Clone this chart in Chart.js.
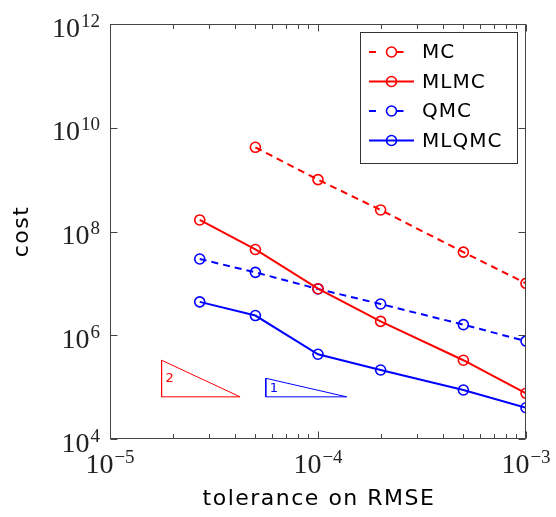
<!DOCTYPE html>
<html>
<head>
<meta charset="utf-8">
<script src="https://cdn.jsdelivr.net/npm/chart.js@4/dist/chart.umd.min.js"></script>
<style>
html,body{margin:0;padding:0;background:#fff;}
#c{display:block;}
</style>
</head>
<body>
<canvas id="c" width="556" height="517"></canvas>
<script>
// ---- data ----
const tolerance = [2.7e-5, 5e-5, 1e-4, 2e-4, 5e-4, 1e-3];
const mcCost    = [null, 4.2e9, 1.0e9, 2.6e8, 4.0e7, 1.0e7];
const mlmcCost  = [1.67e8, 4.5e7, 7.9e6, 1.85e6, 3.3e5, 7.6e4];
const qmcCost   = [2.95e7, 1.63e7, 7.8e6, 4.0e6, 1.6e6, 7.7e5];
const mlqmcCost = [4.4e6, 2.4e6, 4.3e5, 2.14e5, 8.8e4, 4.0e4];
const seriesLabels = ['MC', 'MLMC', 'QMC', 'MLQMC'];
// slope triangles (x corners, y corners)
const triRedX  = [1.77e-5, 4.22e-5, 1.77e-5, 1.77e-5];
const triRedY  = [6.5e4, 6.5e4, 3.3e5, 6.5e4];
const triBlueX = [5.61e-5, 1.374e-4, 5.61e-5, 5.61e-5];
const triBlueY = [6.5e4, 6.5e4, 1.48e5, 6.5e4];
const triLabels = ['2', '1'];
// axis ticks (exponents)
const xTickExp = [-5, -4, -3];
const yTickExp = [4, 6, 8, 10, 12];

const RED = '#ff0000', BLUE = '#0000ff';
function pts(xs, ys){ return xs.map((x,i)=>({x:x, y:ys[i]})).filter(p=>p.y!==null); }

function series(label, ys, color, dashed){
  return {
    label: label, data: pts(tolerance, ys),
    borderColor: color, backgroundColor: 'rgba(0,0,0,0)',
    borderWidth: 2, borderDash: dashed ? [7,5] : [],
    pointRadius: 5, pointHoverRadius: 5, pointBorderWidth: 1.6,
    pointBackgroundColor: 'rgba(0,0,0,0)', pointBorderColor: color,
    pointStyle: 'circle', showLine: true, fill: false, tension: 0
  };
}
function tri(xs, ys, color){
  return {
    label: '', data: pts(xs, ys), borderColor: color, backgroundColor: 'rgba(0,0,0,0)',
    borderWidth: 1, pointRadius: 0, showLine: true, fill: false, tension: 0
  };
}

const datasets = [
  series(seriesLabels[0], mcCost, RED, true),
  series(seriesLabels[1], mlmcCost, RED, false),
  series(seriesLabels[2], qmcCost, BLUE, true),
  series(seriesLabels[3], mlqmcCost, BLUE, false),
  tri(triRedX, triRedY, RED),
  tri(triBlueX, triBlueY, BLUE)
];

const SERIF = '"Liberation Serif", "DejaVu Serif", serif';
const SANS = '"DejaVu Sans", sans-serif';

function drawPow(ctx, base, exp, x, y, align, baseSize, supSize){
  ctx.font = baseSize + 'px ' + SERIF;
  const wb = ctx.measureText(base).width;
  ctx.font = supSize + 'px ' + SERIF;
  const ws = ctx.measureText(exp).width;
  const total = wb + ws + 1;
  let x0 = align === 'right' ? x - total : x - total/2;
  ctx.textAlign = 'left';
  ctx.textBaseline = 'alphabetic';
  ctx.font = baseSize + 'px ' + SERIF;
  ctx.fillText(base, x0, y);
  ctx.font = supSize + 'px ' + SERIF;
  ctx.fillText(exp, x0 + wb + 1, y - 10);
}

const decor = {
  id: 'decor',
  afterDraw(chart){
    const ctx = chart.ctx, xs = chart.scales.x, ys = chart.scales.y, ca = chart.chartArea;
    ctx.save();
    // frame
    ctx.strokeStyle = '#444'; ctx.lineWidth = 1;
    const L = Math.round(ca.left)+0.5, R = Math.round(ca.right)-0.5, T = Math.round(ca.top)+0.5, B = Math.round(ca.bottom)-0.5;
    ctx.strokeRect(L, T, R-L, B-T);
    // ticks
    ctx.beginPath();
    for (let e = -5; e < -3; e++){
      for (let m = 2; m <= 9; m++){
        const v = m * Math.pow(10, e);
        const px = Math.round(xs.getPixelForValue(v)) + 0.5;
        ctx.moveTo(px, B); ctx.lineTo(px, B - 4.5);
        ctx.moveTo(px, T); ctx.lineTo(px, T + 4.5);
      }
    }
    xTickExp.forEach(e=>{
      const px = Math.round(xs.getPixelForValue(Math.pow(10,e))) + 0.5;
      ctx.moveTo(px, B); ctx.lineTo(px, B - 7);
      ctx.moveTo(px, T); ctx.lineTo(px, T + 7);
    });
    yTickExp.forEach(e=>{
      const py = Math.round(ys.getPixelForValue(Math.pow(10,e))) + 0.5;
      ctx.moveTo(L, py); ctx.lineTo(L + 7, py);
      ctx.moveTo(R, py); ctx.lineTo(R - 7, py);
    });
    ctx.stroke();
    // tick labels
    ctx.fillStyle = '#222';
    yTickExp.forEach(e=>{
      const py = ys.getPixelForValue(Math.pow(10,e));
      drawPow(ctx, '10', String(e), ca.left - 10, py + 12.5, 'right', 28, 19);
    });
    xTickExp.forEach(e=>{
      const px = xs.getPixelForValue(Math.pow(10,e));
      drawPow(ctx, '10', '\u2212' + String(-e), px, ca.bottom + 34, 'center', 28, 19);
    });
    // axis titles
    ctx.fillStyle = '#000';
    ctx.font = '22px ' + SANS;
    ctx.letterSpacing = '1.5px';
    ctx.textAlign = 'center'; ctx.textBaseline = 'middle';
    ctx.fillText('tolerance on RMSE', (ca.left + ca.right)/2 + 1, 499);
    ctx.save();
    ctx.translate(22, (ca.top + ca.bottom)/2);
    ctx.rotate(-Math.PI/2);
    ctx.fillText('cost', 0, 0);
    ctx.restore();
    ctx.letterSpacing = '0px';
    // triangle labels
    ctx.font = '13px ' + SANS;
    ctx.textAlign = 'left'; ctx.textBaseline = 'middle';
    ctx.fillStyle = RED;
    ctx.fillText(triLabels[0], xs.getPixelForValue(triRedX[0]) + 4, ys.getPixelForValue(triRedY[2]) + 18);
    ctx.fillStyle = BLUE;
    ctx.fillText(triLabels[1], xs.getPixelForValue(triBlueX[0]) + 4, ys.getPixelForValue(triBlueY[2]) + 10);
    // legend
    const bx = ca.right - 166, by = ca.top + 8, bw = 157, bh = 131;
    ctx.fillStyle = '#fff';
    ctx.fillRect(Math.round(bx)+0.5, Math.round(by)+0.5, bw, bh);
    ctx.strokeStyle = '#333'; ctx.lineWidth = 1;
    ctx.strokeRect(Math.round(bx)+0.5, Math.round(by)+0.5, bw, bh);
    for (let i = 0; i < 4; i++){
      const ds = chart.data.datasets[i];
      const cy = by + 20 + i * 29.5;
      const x1 = bx + 9, x2 = bx + 54, xm = (x1 + x2)/2;
      ctx.strokeStyle = ds.borderColor; ctx.lineWidth = 2;
      ctx.beginPath();
      if (ds.borderDash.length){
        ctx.moveTo(x1, cy); ctx.lineTo(x1 + 7, cy);
        ctx.moveTo(xm + 5, cy); ctx.lineTo(xm + 12, cy);
      } else {
        ctx.moveTo(x1, cy); ctx.lineTo(x2, cy);
      }
      ctx.stroke();
      ctx.lineWidth = 1.6;
      ctx.beginPath(); ctx.arc(xm, cy, 5, 0, Math.PI*2); ctx.stroke();
      ctx.fillStyle = '#000';
      ctx.font = '20px ' + SANS;
      ctx.letterSpacing = '1px';
      ctx.textAlign = 'left'; ctx.textBaseline = 'middle';
      ctx.fillText(ds.label, bx + 62, cy + 1);
      ctx.letterSpacing = '0px';
    }
    ctx.restore();
  }
};

new Chart(document.getElementById('c'), {
  type: 'line',
  data: { datasets: datasets },
  options: {
    responsive: false, animation: false,
    layout: { padding: { left: 0, top: 24, right: 30, bottom: 0 } },
    plugins: { legend: { display: false }, tooltip: { enabled: false } },
    scales: {
      x: {
        type: 'logarithmic', min: 1e-5, max: 1e-3,
        ticks: { display: false }, grid: { display: false, drawTicks: false },
        border: { display: false },
        afterFit(s){ s.height = 78; }
      },
      y: {
        type: 'logarithmic', min: 1e4, max: 1e12,
        ticks: { display: false }, grid: { display: false, drawTicks: false },
        border: { display: false },
        afterFit(s){ s.width = 110; }
      }
    }
  },
  plugins: [decor]
});
</script>
</body>
</html>
